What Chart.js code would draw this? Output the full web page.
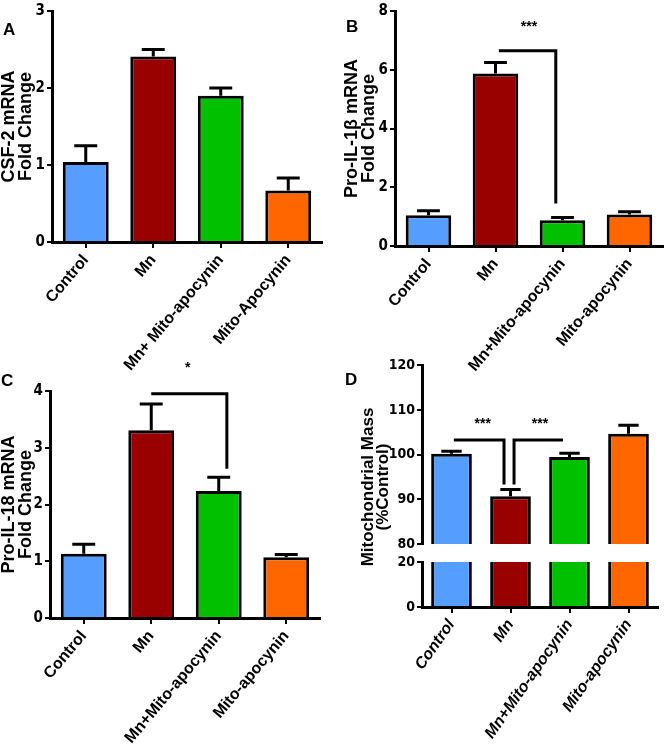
<!DOCTYPE html>
<html>
<head>
<meta charset="utf-8">
<script src="https://cdn.jsdelivr.net/npm/chart.js@4.4.0/dist/chart.umd.min.js"></script>
<style>
  body { margin: 0; background: #fff; }
  #wrap { position: relative; width: 665px; height: 750px; font-family: 'Liberation Sans', Arial, sans-serif; }
  canvas { position: absolute; }
  .letter { position: absolute; font-weight: bold; font-size: 17px; line-height: 20px; }
  #titleD { position: absolute; width: 250px; text-align: center; font-weight: bold; font-size: 17px; line-height: 15px; transform: rotate(-90deg); }
</style>
</head>
<body>
<div id="wrap">
  <canvas id="chartA" width="330" height="380" style="left:0;top:0"></canvas>
  <canvas id="chartB" width="335" height="380" style="left:330px;top:0"></canvas>
  <canvas id="chartC" width="330" height="395" style="left:0;top:355px"></canvas>
  <canvas id="chartD2" width="335" height="200" style="left:330px;top:550px"></canvas>
  <canvas id="chartD1" width="335" height="200" style="left:330px;top:355px"></canvas>
  <div class="letter" style="left:3px;top:20px">A</div>
  <div class="letter" style="left:346px;top:17px">B</div>
  <div class="letter" style="left:1px;top:371px">C</div>
  <div class="letter" style="left:345px;top:370px">D</div>
  <div id="titleD" style="left:250px;top:472px">Mitochondrial Mass<br>(%Control)</div>
</div>
<script>
// categories
const groupsA = ['Control', 'Mn', 'Mn+ Mito-apocynin', 'Mito-Apocynin'];
const groups = ['Control', 'Mn', 'Mn+Mito-apocynin', 'Mito-apocynin'];
const barColors = ['#559EFF', '#990000', '#00C000', '#FF6600'];

// A - CSF-2
const csf2Mean = [1.04, 2.41, 1.90, 0.67];
const csf2Sem = [0.21, 0.09, 0.10, 0.16];
const ticksA = [0, 1, 2, 3];

// B - Pro-IL-1b
const il1bMean = [1.05, 5.87, 0.88, 1.07];
const il1bSem = [0.15, 0.38, 0.09, 0.10];
const ticksB = [0, 2, 4, 6, 8];
const bracketsB = [[[1.05, 6.65], [1.9, 6.65], [1.9, 1.45]]];
const starsB = [[1.5, 7.45, '***']];

// C - Pro-IL-18
const il18Mean = [1.13, 3.31, 2.24, 1.07];
const il18Sem = [0.17, 0.46, 0.24, 0.05];
const ticksC = [0, 1, 2, 3, 4];
const bracketsC = [[[1.0, 3.95], [2.12, 3.95], [2.12, 2.63]]];
const starsC = [[1.54, 4.4, '*']];

// D - mitochondrial mass (broken axis)
const massMean = [100.2, 90.7, 99.5, 104.7];
const massSem = [0.6, 1.5, 0.8, 1.9];
const ticksDtop = [80, 90, 100, 110, 120];
const ticksDbottom = [0, 20];
const bracketsD = [
  [[0.04, 103.3], [0.89, 103.3], [0.89, 93.3]],
  [[1.06, 93.3], [1.06, 103.3], [1.89, 103.3]]
];
const starsD = [[0.53, 106.9, '***'], [1.5, 106.9, '***']];

Chart.defaults.color = '#000';
Chart.defaults.animation = false;

const numFont = "'Liberation Sans Narrow', 'DejaVu Sans Condensed', sans-serif";
const txtFont = "'Liberation Sans', Arial, sans-serif";

// draws the SEM caps above each bar
function errorBars(sem) {
  return {
    id: 'errorBars',
    afterDatasetsDraw(chart) {
      if (!sem) return;
      const meta = chart.getDatasetMeta(0);
      const y = chart.scales.y;
      const data = chart.data.datasets[0].data;
      const ctx = chart.ctx;
      ctx.save();
      ctx.strokeStyle = '#000';
      ctx.lineWidth = 3;
      meta.data.forEach((bar, i) => {
        const top = y.getPixelForValue(data[i] + sem[i]);
        const half = bar.width / 4;
        ctx.beginPath();
        ctx.moveTo(bar.x, bar.y);
        ctx.lineTo(bar.x, top);
        ctx.moveTo(bar.x - half, top);
        ctx.lineTo(bar.x + half, top);
        ctx.stroke();
      });
      ctx.restore();
    }
  };
}

// significance brackets and stars
function brackets(lines, stars) {
  return {
    id: 'brackets',
    afterDraw(chart) {
      const x = chart.scales.x, y = chart.scales.y;
      const ctx = chart.ctx;
      ctx.save();
      ctx.strokeStyle = '#000';
      ctx.lineWidth = 3;
      (lines || []).forEach(pts => {
        ctx.beginPath();
        pts.forEach((p, i) => {
          const px = x.getPixelForValue(p[0]), py = y.getPixelForValue(p[1]);
          if (i === 0) ctx.moveTo(px, py); else ctx.lineTo(px, py);
        });
        ctx.stroke();
      });
      ctx.fillStyle = '#000';
      ctx.font = 'bold 14px ' + txtFont;
      ctx.textAlign = 'center';
      ctx.textBaseline = 'middle';
      (stars || []).forEach(s => {
        ctx.fillText(s[2], x.getPixelForValue(s[0]), y.getPixelForValue(s[1]));
      });
      ctx.restore();
    }
  };
}

function makeChart(id, o) {
  return new Chart(document.getElementById(id), {
    type: 'bar',
    data: {
      labels: o.labels,
      datasets: [{
        data: o.values,
        backgroundColor: barColors,
        borderColor: '#000',
        borderWidth: 3,
        barPercentage: o.barPct || 0.68,
        categoryPercentage: 1,
        clip: 0
      }]
    },
    options: {
      responsive: false,
      layout: { padding: o.padding },
      plugins: { legend: { display: false }, tooltip: { enabled: false } },
      scales: {
        x: {
          display: o.showX !== false,
          afterFit: s => { s.height = o.xHeight || 0; },
          grid: { display: true, drawOnChartArea: false, offset: false, tickLength: 6, color: '#000', lineWidth: 2 },
          border: { display: true, color: '#000', width: 3 },
          ticks: {
            autoSkip: false, minRotation: o.rot || 50, maxRotation: o.rot || 50, padding: 3,
            font: { family: txtFont, size: o.labelSize || 16, weight: 'bold', style: o.italic ? 'italic' : 'normal' }
          }
        },
        y: {
          min: o.ticks[0],
          max: o.ticks[o.ticks.length - 1],
          afterBuildTicks: s => { s.ticks = o.ticks.map(v => ({ value: v })); },
          afterFit: s => { s.width = o.yWidth; },
          grid: { display: true, drawOnChartArea: false, tickLength: 5, color: '#000', lineWidth: 2 },
          border: { display: true, color: '#000', width: 3 },
          ticks: { padding: 2, font: { family: numFont, size: o.tickSize || 15, weight: 'bold' } },
          title: {
            display: !!o.title,
            text: o.title,
            padding: { top: o.titlePad || 0, bottom: 0 },
            font: { family: txtFont, size: 18, weight: 'bold', lineHeight: 0.95 }
          }
        }
      }
    },
    plugins: [errorBars(o.sem), brackets(o.lines, o.stars)]
  });
}

makeChart('chartA', {
  labels: groupsA, values: csf2Mean, sem: csf2Sem, ticks: ticksA,
  title: ['CSF-2 mRNA', 'Fold Change'],
  padding: { top: 9, right: 8, left: 0, bottom: 0 }, yWidth: 52, xHeight: 138
});

makeChart('chartB', {
  labels: groups, values: il1bMean, sem: il1bSem, ticks: ticksB,
  title: ['Pro-IL-1\u03b2 mRNA', 'Fold Change'], titlePad: 13,
  lines: bracketsB, stars: starsB,
  padding: { top: 9, right: 2, left: 0, bottom: 0 }, yWidth: 65, xHeight: 134
});

makeChart('chartC', {
  labels: groups, values: il18Mean, sem: il18Sem, ticks: ticksC,
  title: ['Pro-IL-18 mRNA', 'Fold Change'],
  lines: bracketsC, stars: starsC,
  padding: { top: 36, right: 10, left: 0, bottom: 0 }, yWidth: 50, xHeight: 132
});

// upper part of the broken axis
makeChart('chartD1', {
  labels: groups, values: massMean, sem: massSem, ticks: ticksDtop,
  lines: bracketsD, stars: starsD, showX: false, barPct: 0.69, tickSize: 14,
  padding: { top: 9, right: 7, left: 0, bottom: 11 }, yWidth: 92
});

// lower part of the broken axis
makeChart('chartD2', {
  labels: groups, values: massMean, ticks: ticksDbottom,
  barPct: 0.69, tickSize: 14, labelSize: 16, italic: true, rot: 55,
  padding: { top: 12, right: 7, left: 0, bottom: 0 }, yWidth: 92, xHeight: 143
});
</script>
</body>
</html>
